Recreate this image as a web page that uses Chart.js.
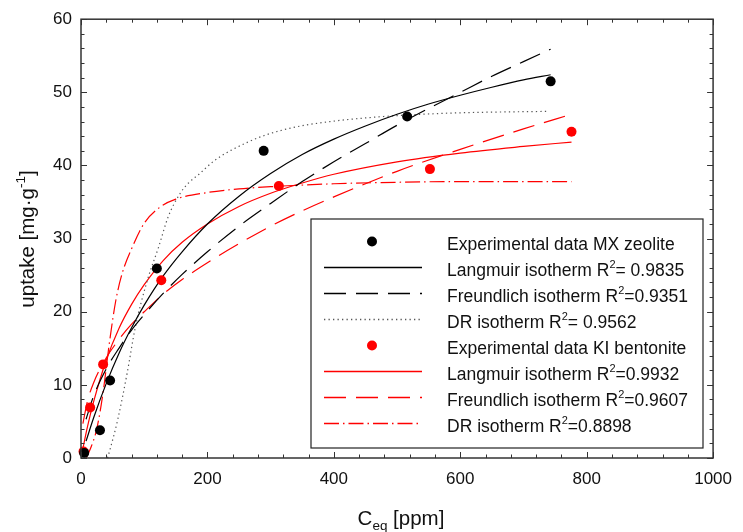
<!DOCTYPE html>
<html>
<head>
<meta charset="utf-8">
<script src="https://cdn.jsdelivr.net/npm/chart.js@4.4.1/dist/chart.umd.min.js"></script>
<style>
  html, body { margin: 0; padding: 0; background: #fff; }
  #wrap { width: 743px; height: 532px; }
</style>
</head>
<body>
<div id="wrap"><canvas id="chart" width="743" height="532"></canvas></div>
<script>
// experimental points
const mxX = [5, 30, 46, 120, 289, 516, 743];
const mxY = [0.7, 3.8, 10.6, 25.9, 42.0, 46.7, 51.5];
const kiX = [4, 14.5, 35, 127, 313, 552, 776];
const kiY = [0.9, 6.9, 12.8, 24.3, 37.2, 39.5, 44.6];

// fitted curves, MX zeolite
const mxLangX = [8, 20, 40, 60, 80, 100, 130, 160, 200, 250, 300, 350, 400, 450, 500, 550, 600, 650, 700, 743];
const mxLangY = [2.3, 5.5, 10.2, 14.3, 17.8, 20.9, 24.9, 28.2, 32.0, 35.8, 38.9, 41.5, 43.6, 45.4, 47.0, 48.4, 49.6, 50.7, 51.7, 52.4];
const mxFreuX = [8, 20, 40, 60, 80, 100, 130, 160, 200, 250, 300, 350, 400, 450, 500, 550, 600, 650, 700, 743];
const mxFreuY = [5.3, 8.5, 12.2, 15.0, 17.5, 19.6, 22.5, 25.1, 28.2, 31.7, 34.8, 37.8, 40.5, 43.0, 45.5, 47.8, 50.0, 52.2, 54.2, 55.9];
const mxDrX = [42, 47, 58, 73, 86, 105, 123, 138, 157, 170, 188, 210, 238, 290, 342, 394, 450, 516, 600, 740];
const mxDrY = [0, 1.5, 5.2, 11.6, 17.9, 24.3, 28.9, 33.0, 36.2, 37.6, 38.9, 40.6, 42.1, 44.1, 45.3, 46.0, 46.5, 46.9, 47.2, 47.4];

// fitted curves, KI bentonite
const kiLangX = [3, 10, 20, 40, 60, 80, 100, 130, 160, 200, 250, 300, 350, 400, 500, 600, 700, 776];
const kiLangY = [1.3, 4.2, 7.7, 13.4, 17.7, 21.0, 23.7, 27.0, 29.5, 32.0, 34.4, 36.2, 37.6, 38.8, 40.5, 41.7, 42.6, 43.2];
const kiFreuX = [3, 10, 20, 40, 60, 80, 100, 130, 160, 200, 250, 300, 350, 400, 500, 600, 700, 776];
const kiFreuY = [4.7, 7.7, 10.3, 13.7, 16.2, 18.3, 20.0, 22.4, 24.4, 26.7, 29.3, 31.7, 33.8, 35.7, 39.2, 42.2, 45.0, 47.0];
const kiDrX = [8, 15, 25, 35, 45, 55, 65, 80, 100, 125, 150, 200, 250, 300, 400, 500, 600, 776];
const kiDrY = [0, 1.3, 4.0, 9.0, 15.8, 21.5, 25.2, 28.6, 32.1, 34.3, 35.4, 36.3, 36.8, 37.1, 37.5, 37.7, 37.8, 37.8];

const seriesLabels = [
  "Experimental data MX zeolite",
  "Langmuir isotherm R^2= 0.9835",
  "Freundlich isotherm R^2=0.9351",
  "DR isotherm R^2= 0.9562",
  "Experimental data KI bentonite",
  "Langmuir isotherm R^2=0.9932",
  "Freundlich isotherm R^2=0.9607",
  "DR isotherm R^2=0.8898"
];

const FONT = "'Liberation Sans', Arial, sans-serif";

function pts(xs, ys) {
  return xs.map((x, i) => ({ x: x, y: ys[i] }));
}

function dots(label, xs, ys, color) {
  return {
    label: label, data: pts(xs, ys), showLine: false,
    pointRadius: 5, pointHoverRadius: 5, pointBorderWidth: 0,
    backgroundColor: color, borderColor: color, order: 0, clip: false
  };
}

function curve(label, xs, ys, color, dash) {
  return {
    label: label, data: pts(xs, ys), showLine: true, pointRadius: 0,
    borderColor: color, backgroundColor: color, borderWidth: 1.2,
    borderDash: dash, cubicInterpolationMode: 'monotone', fill: false,
    order: 1, clip: false
  };
}

// draws "text^2rest" with a raised small 2
function drawSup(ctx, str, x, y, size) {
  const parts = str.split('^');
  ctx.font = size + "px " + FONT;
  ctx.fillText(parts[0], x, y);
  if (parts.length < 2) return;
  let cx = x + ctx.measureText(parts[0]).width;
  const sup = parts[1].charAt(0);
  ctx.font = Math.round(size * 0.62) + "px " + FONT;
  ctx.fillText(sup, cx, y - size * 0.42);
  cx += ctx.measureText(sup).width;
  ctx.font = size + "px " + FONT;
  ctx.fillText(parts[1].slice(1), cx, y);
}

const frameTicks = {
  id: 'frameTicks',
  afterDatasetsDraw(chart) {
    const { ctx, chartArea: a, scales } = chart;
    const sx = scales.x, sy = scales.y;
    ctx.save();
    ctx.strokeStyle = '#333';
    ctx.lineWidth = 1;
    ctx.setLineDash([]);
    ctx.beginPath();
    for (let i = 0; i <= 25; i++) {
      const px = Math.round(sx.getPixelForValue(i * 40)) + 0.5;
      const len = i % 5 === 0 ? 6 : 3.5;
      ctx.moveTo(px, a.bottom); ctx.lineTo(px, a.bottom - len);
      ctx.moveTo(px, a.top); ctx.lineTo(px, a.top + len);
    }
    for (let i = 0; i <= 30; i++) {
      const py = Math.round(sy.getPixelForValue(i * 2)) + 0.5;
      const len = i % 5 === 0 ? 6 : 3.5;
      ctx.moveTo(a.left, py); ctx.lineTo(a.left + len, py);
      ctx.moveTo(a.right, py); ctx.lineTo(a.right - len, py);
    }
    ctx.stroke();
    ctx.lineWidth = 1.5;
    ctx.strokeRect(a.left, a.top, a.right - a.left, a.bottom - a.top);
    ctx.restore();
  }
};

const boxLegend = {
  id: 'boxLegend',
  afterDraw(chart) {
    const ctx = chart.ctx;
    const sets = chart.data.datasets;
    ctx.save();
    ctx.fillStyle = '#fff';
    ctx.fillRect(311, 219, 392, 229);
    ctx.strokeStyle = '#222';
    ctx.lineWidth = 1.2;
    ctx.setLineDash([]);
    ctx.strokeRect(311, 219, 392, 229);
    sets.forEach((ds, i) => {
      const rowY = 243.5 + 26 * i;
      const color = ds.borderColor;
      if (ds.showLine) {
        ctx.strokeStyle = color;
        ctx.lineWidth = 1.3;
        ctx.setLineDash(ds.borderDash);
        ctx.beginPath();
        ctx.moveTo(324, rowY - 2);
        ctx.lineTo(422, rowY - 2);
        ctx.stroke();
        ctx.setLineDash([]);
      } else {
        ctx.fillStyle = color;
        ctx.beginPath();
        ctx.arc(372, rowY - 2, 5, 0, Math.PI * 2);
        ctx.fill();
      }
      ctx.fillStyle = '#111';
      ctx.textBaseline = 'alphabetic';
      ctx.textAlign = 'left';
      drawSup(ctx, ds.label, 447, rowY + 6, 17.5);
    });

    // axis titles
    ctx.fillStyle = '#111';
    ctx.textAlign = 'left';
    ctx.textBaseline = 'alphabetic';
    // x title: C_eq [ppm]
    const big = 20.5, small = 13.5;
    ctx.font = big + "px " + FONT;
    const wC = ctx.measureText("C").width;
    const wRest = ctx.measureText(" [ppm]").width;
    ctx.font = small + "px " + FONT;
    const wSub = ctx.measureText("eq").width;
    let x0 = 401 - (wC + wSub + wRest) / 2;
    ctx.font = big + "px " + FONT;
    ctx.fillText("C", x0, 525);
    ctx.font = small + "px " + FONT;
    ctx.fillText("eq", x0 + wC, 530);
    ctx.font = big + "px " + FONT;
    ctx.fillText(" [ppm]", x0 + wC + wSub, 525);

    // y title: uptake [mg·g^-1]
    ctx.translate(34, 239);
    ctx.rotate(-Math.PI / 2);
    ctx.font = big + "px " + FONT;
    const a1 = "uptake [mg·g", a3 = "]";
    const w1 = ctx.measureText(a1).width, w3 = ctx.measureText(a3).width;
    ctx.font = small + "px " + FONT;
    const w2 = ctx.measureText("-1").width;
    let t0 = -(w1 + w2 + w3) / 2;
    ctx.font = big + "px " + FONT;
    ctx.fillText(a1, t0, 0);
    ctx.font = small + "px " + FONT;
    ctx.fillText("-1", t0 + w1, -9);
    ctx.font = big + "px " + FONT;
    ctx.fillText(a3, t0 + w1 + w2, 0);
    ctx.restore();
  }
};

const ctx = document.getElementById("chart").getContext("2d");
new Chart(ctx, {
  type: 'scatter',
  data: {
    datasets: [
      dots(seriesLabels[0], mxX, mxY, '#000000'),
      curve(seriesLabels[1], mxLangX, mxLangY, '#000000', []),
      curve(seriesLabels[2], mxFreuX, mxFreuY, '#000000', [22, 10]),
      curve(seriesLabels[3], mxDrX, mxDrY, '#555555', [1.3, 3.2]),
      dots(seriesLabels[4], kiX, kiY, '#ff0000'),
      curve(seriesLabels[5], kiLangX, kiLangY, '#ff0000', []),
      curve(seriesLabels[6], kiFreuX, kiFreuY, '#ff0000', [22, 10]),
      curve(seriesLabels[7], kiDrX, kiDrY, '#ff0000', [15, 4, 1.5, 4])
    ]
  },
  options: {
    responsive: false,
    animation: false,
    devicePixelRatio: 1,
    layout: { padding: { top: 19, right: 21, left: 0, bottom: 0 } },
    plugins: { legend: { display: false }, tooltip: { enabled: false } },
    scales: {
      x: {
        type: 'linear', min: 0, max: 1000,
        grid: { display: false, drawTicks: false },
        border: { display: false },
        ticks: {
          stepSize: 200, padding: 11, color: '#111', maxRotation: 0,
          font: { family: FONT, size: 17 },
          callback: (v) => String(v)
        },
        afterFit(scale) { scale.height = 74; }
      },
      y: {
        type: 'linear', min: 0, max: 60,
        grid: { display: false, drawTicks: false },
        border: { display: false },
        ticks: {
          stepSize: 10, padding: 9, color: '#111',
          font: { family: FONT, size: 17 },
          callback: (v) => String(v)
        },
        afterFit(scale) { scale.width = 81; }
      }
    }
  },
  plugins: [frameTicks, boxLegend]
});
</script>
</body>
</html>
